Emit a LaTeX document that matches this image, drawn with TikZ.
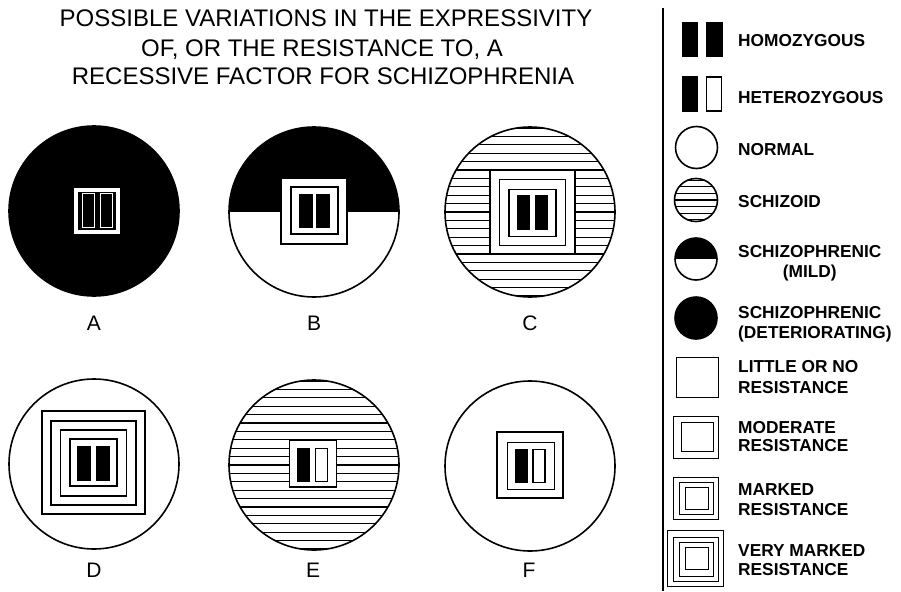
\documentclass[tikz,border=0pt]{standalone}
\usepackage{fontspec}
\setmainfont{Liberation Sans}
\begin{document}
\begin{tikzpicture}[x=1pt,y=-1pt,
  disc/.style={circle,draw,line width=1.6pt,minimum size=#1,inner sep=0pt},
  disc/.default=170pt,
  hatch/.style={path picture={\foreach \k in {-14,...,14}{\draw[line width=1.3pt] ([yshift=\k*#1]path picture bounding box.west) -- ([yshift=\k*#1]path picture bounding box.east);}}},
  hatch/.default=8.4pt,
  halfblack/.style={path picture={\fill[black] (path picture bounding box.north west) rectangle (path picture bounding box.east);}},
  sq/.style={draw,line width=1.8pt,fill=white,minimum size=#1,inner sep=0pt},
  bar/.style={draw,line width=1.2pt,minimum width=12pt,minimum height=33pt,inner sep=0pt},
  lbar/.style={draw,line width=1.2pt,minimum width=15pt,minimum height=34pt,inner sep=0pt},
  lsq/.style 2 args={draw,line width=1.6pt,fill=white,minimum width=#1,minimum height=#2,inner sep=0pt},
  title/.style={anchor=base,font=\fontsize{24}{28}\selectfont,inner sep=0pt},
  letter/.style={anchor=base,font=\fontsize{21}{24}\selectfont,inner sep=0pt},
  ltext/.style={anchor=base west,font=\fontsize{17.3}{20}\selectfont\bfseries,inner sep=0pt}
]
\useasboundingbox[fill=white] (0,0) rectangle (901,591);

% title
\node[title] (t1) at (326,27) {POSSIBLE VARIATIONS IN THE EXPRESSIVITY};
\node[title] (t2) at (322,57) {OF, OR THE RESISTANCE TO, A};
\node[title] (t3) at (323,85) {RECESSIVE FACTOR FOR SCHIZOPHRENIA};

% A
\node[disc,fill=black] (A) at (94,211) {};
\node[draw=white,line width=4pt,minimum size=42pt,inner sep=0pt] (Asq) at (96.5,211) {};
\node[bar,fill=black,draw=white,line width=1pt,minimum height=34pt] (Ab1) at (88,210) {};
\node[bar,fill=black,draw=white,line width=1pt,minimum height=34pt] (Ab2) at (106,210) {};
\node[letter] (Al) at (94,330) {A};

% B
\node[disc,halfblack] (B) at (314,212) {};
\node[sq=66pt] (Bsq2) at (314,211) {};
\node[sq=47pt] (Bsq1) at (314.5,210.5) {};
\node[bar,fill=black] (Bb1) at (306,211) {};
\node[bar,fill=black] (Bb2) at (323,211) {};
\node[letter] (Bl) at (314,330) {B};

% C
\node[disc,hatch] (C) at (530,212) {};
\node[sq=84.5pt] (Csq3) at (532.5,212) {};
\node[sq=66pt] (Csq2) at (532.5,212.5) {};
\node[sq=47pt] (Csq1) at (532.5,213) {};
\node[bar,fill=black] (Cb1) at (523.5,212.5) {};
\node[bar,fill=black] (Cb2) at (541.5,212.5) {};
\node[letter] (Cl) at (530,330) {C};

% D
\node[disc] (D) at (94,464) {};
\node[sq=103pt] (Dsq4) at (93.5,462.5) {};
\node[sq=84.5pt] (Dsq3) at (93.5,463) {};
\node[sq=66pt] (Dsq2) at (93.5,463) {};
\node[sq=47pt] (Dsq1) at (93.5,462.5) {};
\node[bar,fill=black] (Db1) at (84,463.5) {};
\node[bar,fill=black] (Db2) at (103,463.5) {};
\node[letter] (Dl) at (94,577) {D};

% E
\node[disc,hatch] (E) at (314,465) {};
\node[sq=47pt] (Esq1) at (313,463.5) {};
\node[bar,fill=black] (Eb1) at (303.5,465) {};
\node[bar,fill=white] (Eb2) at (321.5,465) {};
\node[letter] (El) at (313,577) {E};

% F
\node[disc] (F) at (530,466) {};
\node[sq=66pt] (Fsq2) at (530,465) {};
\node[sq=47pt] (Fsq1) at (531,466) {};
\node[bar,fill=black] (Fb1) at (521.5,466) {};
\node[bar,fill=white] (Fb2) at (539,466) {};
\node[letter] (Fl) at (529,577) {F};

% legend divider
\coordinate (ltop) at (663,8);
\coordinate (lbot) at (663,591);
\draw[line width=1.8pt] (ltop) -- (lbot);

% legend symbols
\node[lbar,fill=black] (hom1) at (690,39.5) {};
\node[lbar,fill=black] (hom2) at (714.5,39.5) {};
\node[lbar,fill=black] (het1) at (690,94) {};
\node[lbar,fill=white] (het2) at (714,94) {};
\node[disc=42pt] (normal) at (696.5,147.5) {};
\node[disc=43pt,hatch=6.6pt] (schizoid) at (696,200) {};
\node[disc=42pt,halfblack] (mild) at (696,259) {};
\node[disc=42pt,fill=black] (deter) at (696,318) {};
\node[lsq={42pt}{40pt}] (little) at (697.5,377.5) {};
\node[lsq={45pt}{42pt}] (mod2) at (696,437.5) {};
\node[lsq={32pt}{29pt}] (mod1) at (697.5,437) {};
\node[lsq={45pt}{42pt}] (mar3) at (696,498.5) {};
\node[lsq={34pt}{32pt}] (mar2) at (696.5,498.5) {};
\node[lsq={23pt}{22pt}] (mar1) at (697,498.5) {};
\node[lsq={56pt}{56pt}] (vm4) at (695.5,558.5) {};
\node[lsq={45pt}{44pt}] (vm3) at (696,559.5) {};
\node[lsq={34pt}{34pt}] (vm2) at (696.5,559.5) {};
\node[lsq={23pt}{22pt}] (vm1) at (697,558.5) {};

% legend texts
\node[ltext] (thom) at (738,47) {HOMOZYGOUS};
\node[ltext] (thet) at (738,103) {HETEROZYGOUS};
\node[ltext] (tnor) at (738,155) {NORMAL};
\node[ltext] (tsch) at (738,207) {SCHIZOID};
\node[ltext] (tmild1) at (738,257) {SCHIZOPHRENIC};
\node[ltext,anchor=base] (tmild2) at ([yshift=-20pt]tmild1.base) {(MILD)};
\node[ltext] (tdet1) at (738,318) {SCHIZOPHRENIC};
\node[ltext] (tdet2) at (738,338) {(DETERIORATING)};
\node[ltext] (tlit1) at (738,372) {LITTLE OR NO};
\node[ltext] (tlit2) at (738,393) {RESISTANCE};
\node[ltext] (tmod1) at (738,433) {MODERATE};
\node[ltext] (tmod2) at (738,451) {RESISTANCE};
\node[ltext] (tmar1) at (738,495) {MARKED};
\node[ltext] (tmar2) at (738,515) {RESISTANCE};
\node[ltext] (tvm1) at (738,556) {VERY MARKED};
\node[ltext] (tvm2) at (738,575) {RESISTANCE};
\end{tikzpicture}
\end{document}
